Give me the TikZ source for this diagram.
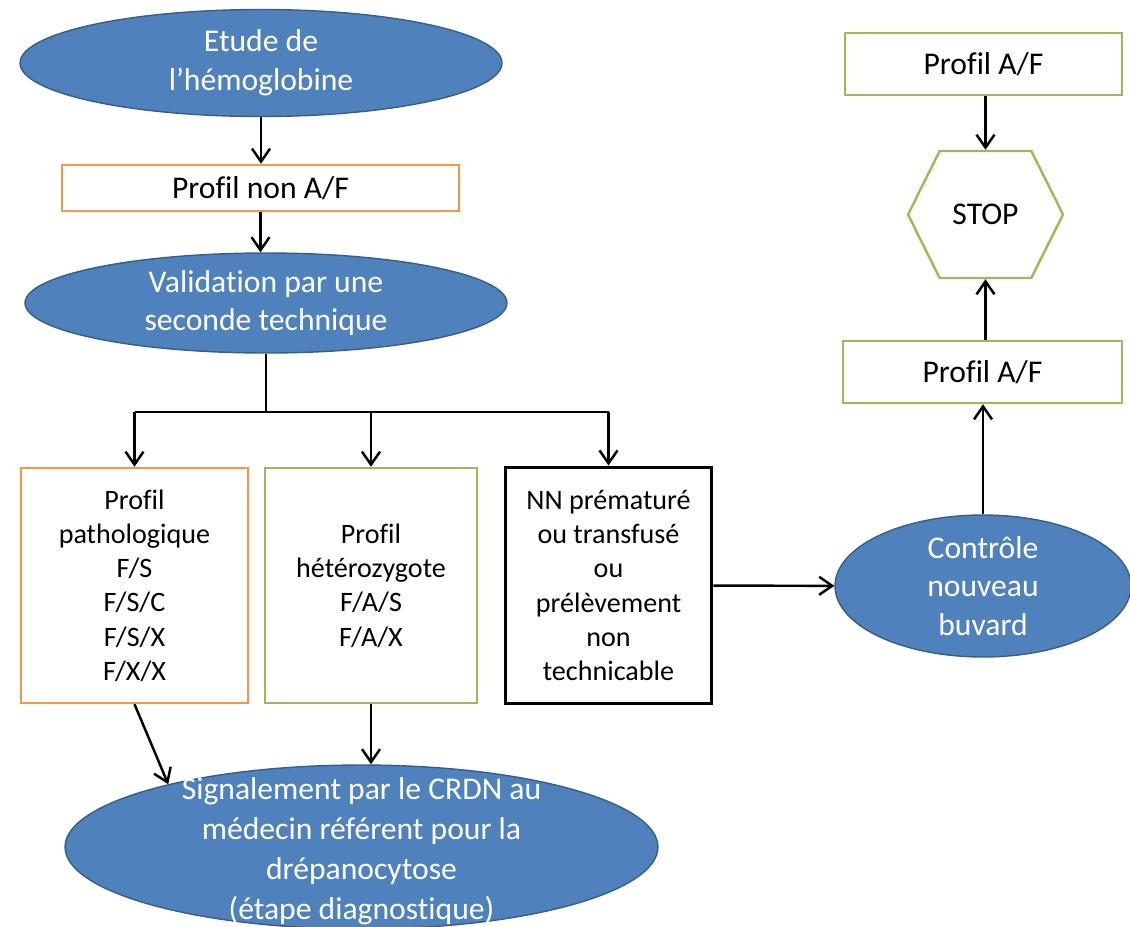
\documentclass[tikz,border=0pt]{standalone}
\usepackage{fontspec}
\setmainfont{Carlito}[Ligatures=NoCommon]
\usepackage{xcolor}
\usetikzlibrary{shapes.geometric,shapes.symbols,arrows.meta,positioning,calc}
\definecolor{blobblue}{RGB}{79,129,189}
\definecolor{blobedge}{RGB}{56,93,138}
\definecolor{orangeline}{RGB}{247,150,70}
\definecolor{greenline}{RGB}{155,187,89}

\begin{document}
\begin{tikzpicture}[x=0.02cm, y=-0.02cm,
    blob/.style={ellipse, fill=blobblue, draw=blobedge, line width=0.8pt, inner sep=0pt},
    blobtext/.style={text=white, align=center, font=\fontsize{18}{22}\selectfont},
    box/.style={rectangle, draw, fill=white, line width=1.4pt, align=center, inner sep=2pt},
    bigtxt/.style={font=\fontsize{18}{22}\selectfont},
    smalltxt/.style={font=\fontsize{16}{19.5}\selectfont},
    arr/.style={line width=1.4pt, -{Straight Barb[length=2.6mm,width=3.6mm]}},
    link/.style={line width=1.4pt}]

    \useasboundingbox[fill=white] (0,0) rectangle (1130,927);

    % Left column
    \node[blob, minimum width=9.64cm, minimum height=2.14cm] (etude) at (261,63) {};
    \node[blobtext] (etudetxt) at (etude) {Etude de\\l’hémoglobine};
    \node[box, draw=orangeline, bigtxt, minimum width=7.94cm, minimum height=0.92cm] (nonaf) at (260.5,188) {Profil non A/F};
    \node[blob, minimum width=9.64cm, minimum height=2.0cm] (valid) at (266,303) {};
    \node[blobtext] (validtxt) at (valid) {Validation par une\\seconde technique};

    % Result boxes
    \node[box, draw=orangeline, smalltxt, minimum width=4.54cm, minimum height=4.7cm] (patho) at (134.5,585.5)
        {Profil\\pathologique\\F/S\\F/S/C\\F/S/X\\F/X/X};
    \node[box, draw=greenline, smalltxt, minimum width=4.24cm, minimum height=4.7cm] (hetero) at (371,585.5)
        {Profil\\hétérozygote\\F/A/S\\F/A/X};
    \node[box, draw=black, line width=1.7pt, smalltxt, minimum width=4.14cm, minimum height=4.74cm] (prema) at (608.5,585.5)
        {NN prématuré\\ou transfusé\\ou\\prélèvement\\non\\technicable};

    % Diagnosis
    \node[blob, minimum width=11.86cm, minimum height=3.28cm] (signal) at (361.5,847) {};
    \node[blobtext, font=\fontsize{18}{22.7}\selectfont] (signaltxt) at ($(signal)+(0,4)$)
        {Signalement par le CRDN au\\médecin référent pour la\\drépanocytose\\(étape diagnostique)};

    % Right column
    \node[blob, minimum width=5.92cm, minimum height=2.84cm] (ctrl) at (983,586) {};
    \node[blobtext] (ctrltxt) at (ctrl) {Contrôle\\nouveau\\buvard};
    \node[box, draw=greenline, bigtxt, minimum width=5.58cm, minimum height=1.24cm] (afbot) at (982.5,372) {Profil A/F};
    \node[signal, signal to=west and east, signal pointer angle=127, draw=greenline, line width=1.4pt, fill=white,
        bigtxt, minimum width=3.1cm, minimum height=2.54cm, inner sep=0pt] (stop) at (985.5,214.5) {STOP};
    \node[box, draw=greenline, bigtxt, minimum width=5.54cm, minimum height=1.24cm] (aftop) at (983.5,64) {Profil A/F};

    % Connectors
    \draw[arr] (etude.south) -- (etude.south |- nonaf.north);
    \draw[arr] (nonaf.south) -- (nonaf.south |- valid.north);
    \coordinate (bus) at (266,412);
    \draw[link] (valid.south) -- (bus);
    \draw[link] (patho.north |- bus) -- (prema.north |- bus);
    \foreach \b in {patho,hetero,prema} {
        \draw[arr] (\b.north |- bus) -- (\b.north);
    }
    \draw[arr] (patho.south) -- (signal.162);
    \draw[arr] (hetero.south) -- (hetero.south |- signal.north);
    \draw[arr] (prema) -- (ctrl);
    \draw[arr] (ctrl.north) -- (ctrl.north |- afbot.south);
    \draw[arr] (stop.south |- afbot.north) -- (stop.south);
    \draw[arr] (stop.north |- aftop.south) -- (stop.north);

\end{tikzpicture}
\end{document}
